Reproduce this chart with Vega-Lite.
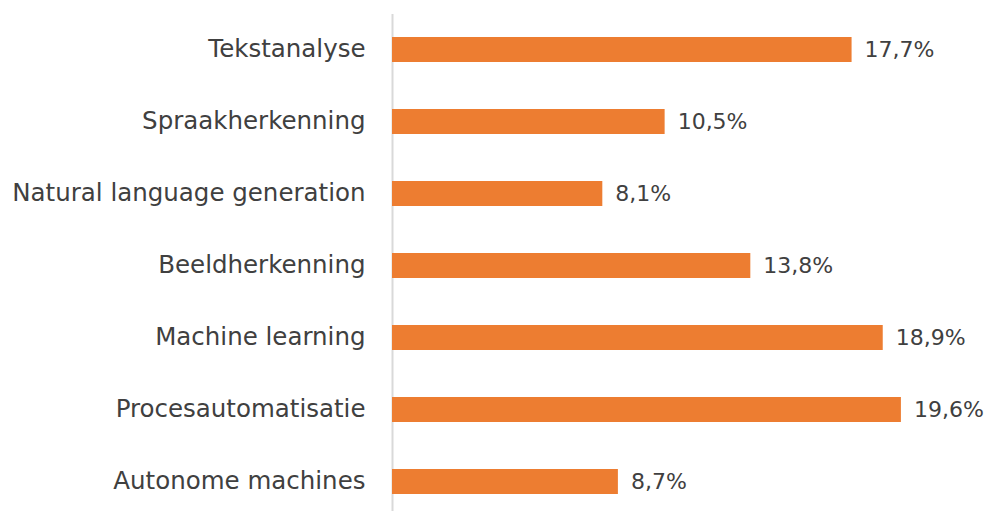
{
  "$schema": "https://vega.github.io/schema/vega-lite/v6.json",
  "width": 592,
  "height": 504,
  "autosize": {"type": "none"},
  "padding": {"left": 392, "top": 13.5, "right": 0, "bottom": 0},
  "background": "white",
  "config": {
    "view": {"stroke": null},
    "locale": {"number": {"decimal": ",", "thousands": ".", "grouping": [3], "currency": ["€", ""]}},
    "font": "DejaVu Sans"
  },
  "data": {
    "values": [
      {"categorie": "Tekstanalyse", "aandeel": 0.177},
      {"categorie": "Spraakherkenning", "aandeel": 0.105},
      {"categorie": "Natural language generation", "aandeel": 0.081},
      {"categorie": "Beeldherkenning", "aandeel": 0.138},
      {"categorie": "Machine learning", "aandeel": 0.189},
      {"categorie": "Procesautomatisatie", "aandeel": 0.196},
      {"categorie": "Autonome machines", "aandeel": 0.087}
    ]
  },
  "encoding": {
    "y": {
      "field": "categorie",
      "type": "nominal",
      "sort": null,
      "scale": {"paddingInner": 0.653, "paddingOuter": 0.3265},
      "axis": {
        "title": null,
        "ticks": false,
        "labelFontSize": 24.5,
        "labelColor": "#404040",
        "labelPadding": 27,
        "labelFont": "DejaVu Sans",
        "domainColor": "#d9d9d9",
        "domainWidth": 2,
        "labelLimit": 500
      }
    },
    "x": {
      "field": "aandeel",
      "type": "quantitative",
      "scale": {"domain": [0, 0.228], "nice": false},
      "axis": null
    }
  },
  "layer": [
    {"mark": {"type": "bar", "color": "#ED7D31"}},
    {
      "mark": {"type": "text", "align": "left", "baseline": "middle", "dx": 13, "fontSize": 22, "color": "#404040", "font": "DejaVu Sans"},
      "encoding": {"text": {"field": "aandeel", "type": "quantitative", "format": ".1%"}}
    }
  ]
}
